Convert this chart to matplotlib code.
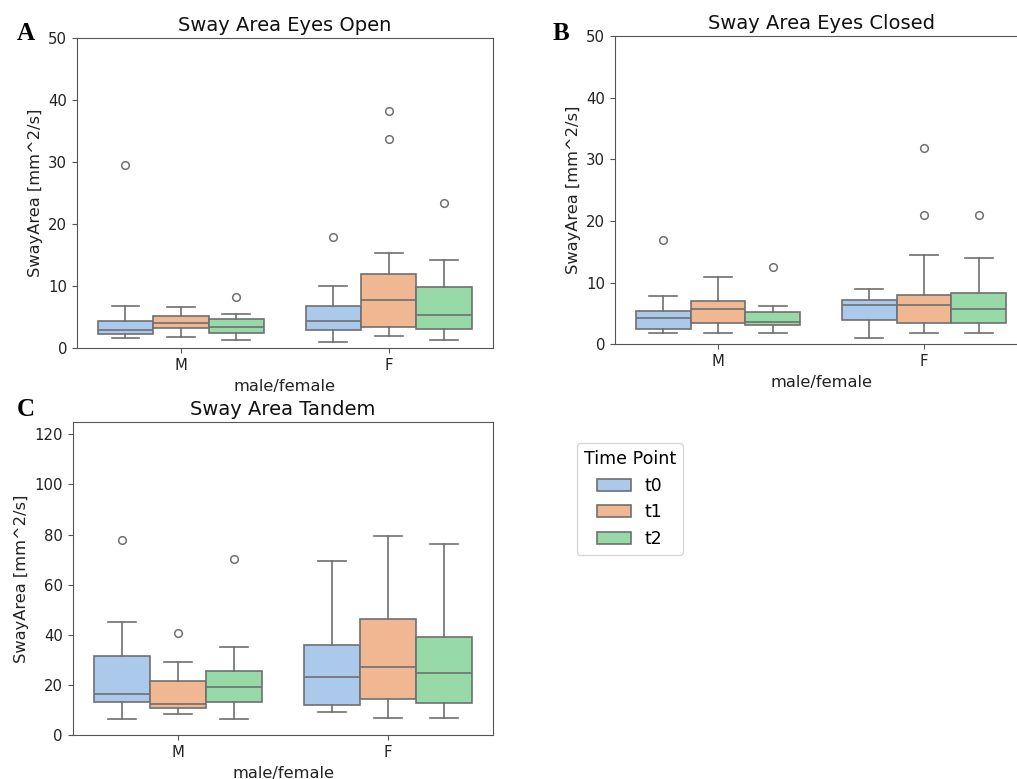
import matplotlib
matplotlib.use("Agg")
import matplotlib.pyplot as plt
from matplotlib.patches import Patch

# ---------------- data ----------------
groups = ["M", "F"]
hues = ["t0", "t1", "t2"]
# order of boxes: M-t0, M-t1, M-t2, F-t0, F-t1, F-t2

# Panel A: Sway Area Eyes Open
eo_wlo = [1.7, 1.75, 1.35, 1.07, 2.03, 1.35]
eo_q1 = [2.3, 3.2, 2.4, 2.95, 3.37, 3.1]
eo_med = [2.95, 4.05, 3.4, 4.35, 7.8, 5.3]
eo_q3 = [4.45, 5.2, 4.65, 6.85, 12.03, 9.95]
eo_whi = [6.8, 6.6, 5.6, 10.05, 15.45, 14.3]
eo_out = [[29.5], [], [8.35], [18.0], [33.7, 38.2], [23.5]]

# Panel B: Sway Area Eyes Closed
ec_wlo = [1.9, 1.8, 1.9, 1.08, 1.8, 1.9]
ec_q1 = [2.55, 3.4, 3.08, 3.9, 3.4, 3.5]
ec_med = [4.2, 5.68, 3.6, 6.4, 6.4, 5.7]
ec_q3 = [5.45, 6.97, 5.2, 7.25, 8.05, 8.4]
ec_whi = [7.85, 10.9, 6.2, 9.0, 14.55, 14.05]
ec_out = [[16.9], [], [12.5], [], [21.0, 31.8], [20.9]]

# Panel C: Sway Area Tandem
tn_wlo = [6.4, 8.4, 6.4, 9.2, 6.8, 6.8]
tn_q1 = [13.2, 10.8, 13.2, 12.0, 14.6, 12.9]
tn_med = [16.5, 12.6, 19.3, 23.4, 27.4, 24.7]
tn_q3 = [31.6, 21.8, 25.5, 36.0, 46.2, 39.2]
tn_whi = [45.3, 29.4, 35.2, 69.5, 79.5, 76.4]
tn_out = [[77.7], [40.9], [70.3], [], [], []]

colors = ["#abc9ea", "#efb792", "#98daa7"]
line_gray = "#707070"

panels = [
    dict(title="Sway Area Eyes Open", letter="A", ylim=(0, 50),
         yticks=[0, 10, 20, 30, 40, 50],
         stats=(eo_wlo, eo_q1, eo_med, eo_q3, eo_whi, eo_out),
         pos=[77 / 1017, 1 - 348.3 / 779, (492.7 - 77) / 1017, (348.3 - 38.3) / 779],
         letter_xy=(26 / 1017, 1 - 34 / 779)),
    dict(title="Sway Area Eyes Closed", letter="B", ylim=(0, 50),
         yticks=[0, 10, 20, 30, 40, 50],
         stats=(ec_wlo, ec_q1, ec_med, ec_q3, ec_whi, ec_out),
         pos=[615 / 1017, 1 - 344.3 / 779, (1027 - 615) / 1017, (344.3 - 36) / 779],
         letter_xy=(561 / 1017, 1 - 33 / 779)),
    dict(title="Sway Area Tandem", letter="C", ylim=(0, 125),
         yticks=[0, 20, 40, 60, 80, 100, 120],
         stats=(tn_wlo, tn_q1, tn_med, tn_q3, tn_whi, tn_out),
         pos=[72.7 / 1017, 1 - 735.3 / 779, (493.3 - 72.7) / 1017, (735.3 - 421.7) / 779],
         letter_xy=(26 / 1017, 1 - 410 / 779)),
]

fig = plt.figure(figsize=(10.17, 7.79), dpi=100)
plt.rcParams["font.family"] = ["DejaVu Sans"]

box_w = 0.8 / len(hues)
for p in panels:
    ax = fig.add_axes(p["pos"])
    wlo, q1, med, q3, whi, out = p["stats"]
    for gi, g in enumerate(groups):
        for hi, h in enumerate(hues):
            k = gi * len(hues) + hi
            st = dict(whislo=wlo[k], q1=q1[k], med=med[k], q3=q3[k],
                      whishi=whi[k], fliers=out[k], label=h)
            x = gi + (hi - (len(hues) - 1) / 2) * box_w
            ax.bxp([st], positions=[x], widths=[box_w], capwidths=[box_w * 0.5],
                   patch_artist=True, showfliers=True, manage_ticks=False,
                   boxprops=dict(facecolor=colors[hi], edgecolor=line_gray, linewidth=1.2),
                   whiskerprops=dict(color=line_gray, linewidth=1.2),
                   capprops=dict(color=line_gray, linewidth=1.2),
                   medianprops=dict(color=line_gray, linewidth=1.2),
                   flierprops=dict(marker="o", markerfacecolor="none",
                                   markeredgecolor=line_gray, markersize=5.5,
                                   markeredgewidth=1.1))
    ax.set_xlim(-0.5, len(groups) - 0.5)
    ax.set_ylim(*p["ylim"])
    ax.set_xticks(range(len(groups)))
    ax.set_xticklabels(groups)
    ax.set_yticks(p["yticks"])
    ax.tick_params(labelsize=10.7, colors="#222222")
    ax.tick_params(color="#555555")
    for s in ax.spines.values():
        s.set_color("#555555")
    ax.set_xlabel("male/female", fontsize=11.7, color="#222222")
    ax.set_ylabel("SwayArea [mm^2/s]", fontsize=11.7, color="#222222")
    ax.set_title(p["title"], fontsize=14, color="#111111", pad=5)
    fig.text(p["letter_xy"][0], p["letter_xy"][1], p["letter"],
             family="Liberation Serif", fontweight="bold", fontsize=18,
             ha="center", va="center")

handles = [Patch(facecolor=c, edgecolor=line_gray, linewidth=1.2, label=h)
           for c, h in zip(colors, hues)]
fig.legend(handles=handles, title="Time Point", loc="upper left",
           bbox_to_anchor=(576.7 / 1017, 1 - 443.3 / 779), borderaxespad=0,
           fontsize=12.4, title_fontsize=12.6, frameon=True)

fig.savefig("out.png", dpi=100)
